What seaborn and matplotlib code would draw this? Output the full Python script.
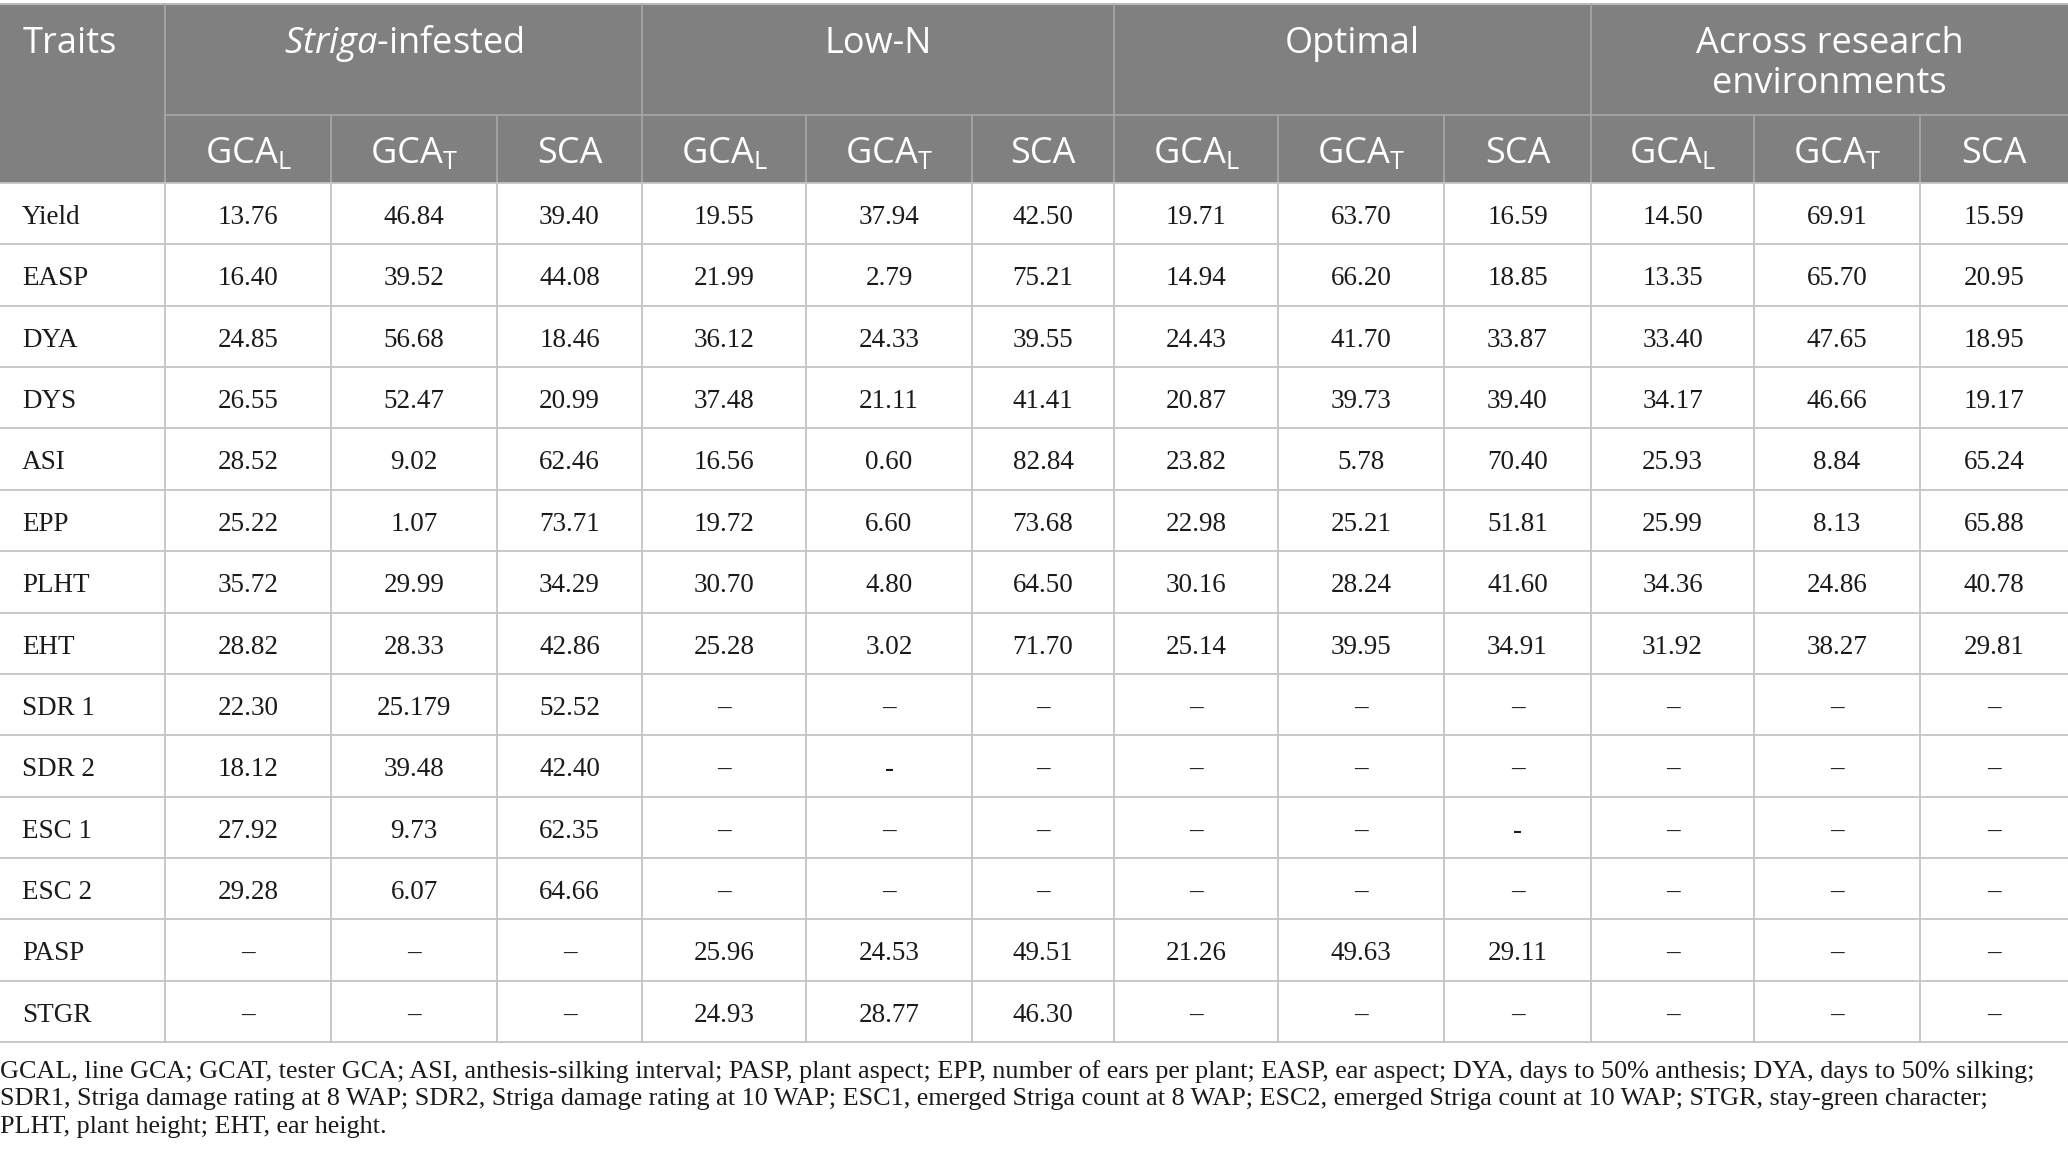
import matplotlib
matplotlib.use("Agg")
import matplotlib.pyplot as plt
from matplotlib.patches import Rectangle
import seaborn as sns

# --- table content -------------------------------------------------------
traits = ["Yield", "EASP", "DYA", "DYS", "ASI", "EPP", "PLHT", "EHT",
          "SDR 1", "SDR 2", "ESC 1", "ESC 2", "PASP", "STGR"]

environments = ["$\\mathit{Striga}$-infested", "Low-N", "Optimal",
                "Across research\nenvironments"]
sub_headers = ["GCA$_\\mathrm{L}$", "GCA$_\\mathrm{T}$", "SCA"]

D = "\u2013"
striga_gcal = ["13.76", "16.40", "24.85", "26.55", "28.52", "25.22", "35.72",
               "28.82", "22.30", "18.12", "27.92", "29.28", D, D]
striga_gcat = ["46.84", "39.52", "56.68", "52.47", "9.02", "1.07", "29.99",
               "28.33", "25.179", "39.48", "9.73", "6.07", D, D]
striga_sca = ["39.40", "44.08", "18.46", "20.99", "62.46", "73.71", "34.29",
              "42.86", "52.52", "42.40", "62.35", "64.66", D, D]
lown_gcal = ["19.55", "21.99", "36.12", "37.48", "16.56", "19.72", "30.70",
             "25.28", D, D, D, D, "25.96", "24.93"]
lown_gcat = ["37.94", "2.79", "24.33", "21.11", "0.60", "6.60", "4.80",
             "3.02", D, "-", D, D, "24.53", "28.77"]
lown_sca = ["42.50", "75.21", "39.55", "41.41", "82.84", "73.68", "64.50",
            "71.70", D, D, D, D, "49.51", "46.30"]
opt_gcal = ["19.71", "14.94", "24.43", "20.87", "23.82", "22.98", "30.16",
            "25.14", D, D, D, D, "21.26", D]
opt_gcat = ["63.70", "66.20", "41.70", "39.73", "5.78", "25.21", "28.24",
            "39.95", D, D, D, D, "49.63", D]
opt_sca = ["16.59", "18.85", "33.87", "39.40", "70.40", "51.81", "41.60",
           "34.91", D, D, "-", D, "29.11", D]
across_gcal = ["14.50", "13.35", "33.40", "34.17", "25.93", "25.99", "34.36",
               "31.92", D, D, D, D, D, D]
across_gcat = ["69.91", "65.70", "47.65", "46.66", "8.84", "8.13", "24.86",
               "38.27", D, D, D, D, D, D]
across_sca = ["15.59", "20.95", "18.95", "19.17", "65.24", "65.88", "40.78",
              "29.81", D, D, D, D, D, D]

columns = [striga_gcal, striga_gcat, striga_sca,
           lown_gcal, lown_gcat, lown_sca,
           opt_gcal, opt_gcat, opt_sca,
           across_gcal, across_gcat, across_sca]

footnote = [
    "GCAL, line GCA; GCAT, tester GCA; ASI, anthesis-silking interval; PASP, plant aspect; "
    "EPP, number of ears per plant; EASP, ear aspect; DYA, days to 50% anthesis; DYA, days to 50% silking;",
    "SDR1, Striga damage rating at 8 WAP; SDR2, Striga damage rating at 10 WAP; ESC1, emerged "
    "Striga count at 8 WAP; ESC2, emerged Striga count at 10 WAP; STGR, stay-green character;",
    "PLHT, plant height; EHT, ear height.",
]

# --- layout (pixel units) -----------------------------------------------
W, H = 2068, 1169
col_edges = [0, 165, 331, 497, 642, 806, 972, 1114, 1278, 1444, 1591, 1754, 1920, 2068]
head_top, head_mid, head_bot = 4, 115, 183
row_h = (1042 - head_bot) / len(traits)

header_bg = "#808080"
grid_col = "#c4c4c4"
head_line = "#a8a8a8"
text_col = "#1a1a1a"

sns.set_theme(style="white")
plt.rcParams["font.family"] = ["Liberation Serif", "DejaVu Serif"]
plt.rcParams["mathtext.fontset"] = "custom"
plt.rcParams["mathtext.rm"] = "Open Sans"
plt.rcParams["mathtext.it"] = "Open Sans:italic"

fig = plt.figure(figsize=(W / 100, H / 100), dpi=100)
fig.patch.set_facecolor("white")
ax = fig.add_axes([0, 0, 1, 1])
ax.set_xlim(0, W)
ax.set_ylim(H, 0)
ax.axis("off")

# header block
ax.add_patch(Rectangle((0, head_top), W, head_bot - head_top,
                       facecolor=header_bg, edgecolor="none", zorder=0))
ax.plot([0, W], [head_top, head_top], color="#bdbdbd", lw=1.4, zorder=2)
ax.plot([col_edges[1], W], [head_mid, head_mid], color=head_line, lw=1.2, zorder=2)

group_edges = [col_edges[1], col_edges[4], col_edges[7], col_edges[10]]
for x in group_edges:
    ax.plot([x, x], [head_top, head_bot], color=head_line, lw=1.2, zorder=2)
for i in range(1, len(col_edges) - 1):
    x = col_edges[i]
    if x not in group_edges:
        ax.plot([x, x], [head_mid, head_bot], color=head_line, lw=1.2, zorder=2)

hdr = dict(color="white", fontfamily="Open Sans", fontsize=26)
ax.text(23, 53, "Traits", ha="left", va="baseline", **hdr)
for g, name in enumerate(environments):
    x0, x1 = col_edges[1 + 3 * g], col_edges[4 + 3 * g]
    ax.text((x0 + x1) / 2, 53, name.split("\n")[0], ha="center", va="baseline", **hdr)
    if "\n" in name:
        ax.text((x0 + x1) / 2, 93, name.split("\n")[1], ha="center", va="baseline", **hdr)
    for k, sub in enumerate(sub_headers):
        c = 1 + 3 * g + k
        ax.text((col_edges[c] + col_edges[c + 1]) / 2, 163, sub,
                ha="center", va="baseline", **hdr)

# body grid
for r in range(len(traits) + 1):
    y = head_bot + r * row_h
    ax.plot([0, W], [y, y], color=grid_col, lw=1.3, zorder=2)
for x in col_edges[1:-1]:
    ax.plot([x, x], [head_bot, head_bot + len(traits) * row_h],
            color=grid_col, lw=1.3, zorder=2)

# body text
for r, trait in enumerate(traits):
    yb = head_bot + r * row_h + 41
    ax.text(22, yb, trait, ha="left", va="baseline", fontsize=19.5, color=text_col)
    for c, col in enumerate(columns):
        xc = (col_edges[c + 1] + col_edges[c + 2]) / 2
        ax.text(xc, yb, col[r], ha="center", va="baseline", fontsize=19.5, color=text_col)

# footnote
for i, line in enumerate(footnote):
    ax.text(0, 1078 + i * 27.4, line, ha="left", va="baseline",
            fontsize=18.8, color=text_col)

fig.savefig("out.png", dpi=100, facecolor="white")
